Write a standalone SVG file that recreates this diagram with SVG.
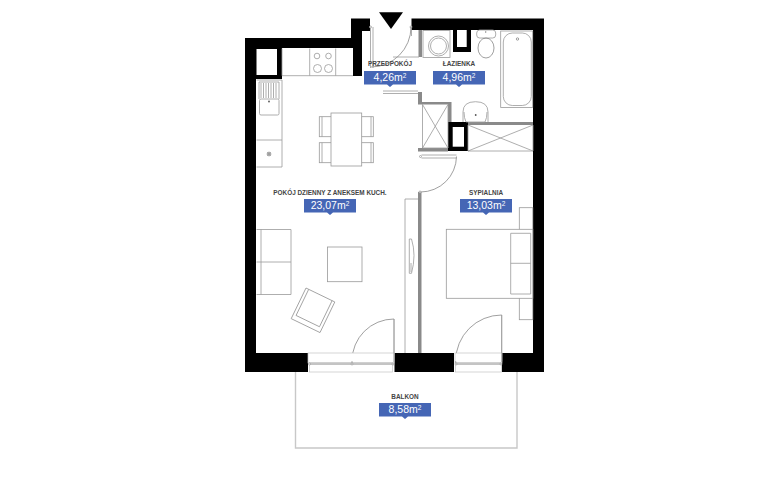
<svg xmlns="http://www.w3.org/2000/svg" width="768" height="480" viewBox="0 0 768 480">
<style>
.l{fill:none;stroke:#999;stroke-width:.8}
.lf{fill:#fff;stroke:#999;stroke-width:.8}
.d{fill:none;stroke:#777;stroke-width:.7}
.g{fill:#8a8a8a}
.w{fill:#000}
.t{font:600 6.4px "Liberation Sans",Arial,sans-serif;fill:#444;text-anchor:middle}
.a{font:10.500px "Liberation Sans",Arial,sans-serif;fill:#fff;text-anchor:middle}
.s{font-size:6.500px}
.b{fill:#4566b5}
</style>
<defs>
<g id="tag"><path class="b" d="M-26 0H26V13.500H3L0 16L-3 13.500H-26Z"/></g>
</defs>
<rect width="768" height="480" fill="#fff"/>
<g id="walls">
<path class="w" d="M245 38H351V18.500H370V31H362V76H353V48H282V79H256V353H308V372H245Z"/>
<rect x="256.500" y="49" width="20.500" height="26" fill="#fff"/>
<path class="w" d="M411.500 18.500H544V372H502V353H533V30H411.500Z"/>
<rect class="w" x="394.500" y="353" width="59.500" height="19"/>
<path class="g" d="M418 353V192H421.500V353Z"/>
<path class="g" d="M418 92H422V102H451.500V122H448V104.500H418Z"/>
<rect class="g" x="418" y="148" width="30" height="3.500"/>
<rect class="g" x="468" y="122" width="65" height="3"/>
<rect class="g" x="418.500" y="30" width="3.500" height="27"/>
<path class="w" d="M448 122H468V151H448Z"/>
<rect x="452.700" y="127" width="11.300" height="19.700" fill="#fff"/>
<path class="w" d="M453 30H471V52H453Z"/>
<rect x="457" y="30" width="9.700" height="17" fill="#fff"/>
</g>
<g id="balkon-frame">
<path fill="none" stroke="#c8c8c8" stroke-width="1.400" d="M295.500 372V448H517V372"/>
</g>
<g id="kuchnia">
<path class="l" d="M282 48.500V75.700H353M309.700 48.500V75.700M335.700 48.500V75.700"/>
<circle class="l" cx="317" cy="56" r="2.800"/><circle class="l" cx="328.500" cy="56" r="2.800"/>
<circle class="l" cx="317.500" cy="68.500" r="4"/><circle class="l" cx="328.500" cy="68.500" r="4"/>
<path class="l" d="M256.500 80H282V167H256.500M256.500 140H282"/>
<path class="l" d="M259 82V99M279 82V99M259 82H279M261 83V98M263.500 83V98M266 83V98M268.500 83V98M271 83V98M273.500 83V98M276 83V98"/>
<rect class="l" x="259.500" y="99" width="19.500" height="16" rx="1.500"/>
<circle fill="#555" cx="269" cy="101.500" r=".9"/>
<circle class="l" cx="269" cy="154" r="1.500"/>
<path class="l" d="M266.500 154H271.500M269 151.500V156.500M267 152L271 156M271 152L267 156" stroke-width=".5"/>
</g>
<g id="stol">
<rect class="l" x="319.300" y="116.700" width="13" height="20"/><rect class="l" x="319.300" y="142.700" width="13" height="20"/>
<path class="l" d="M322 116.700V136.700M322 142.700V162.700"/>
<rect class="l" x="361" y="116.700" width="12.300" height="20"/><rect class="l" x="361" y="142.700" width="12.300" height="20"/>
<path class="l" d="M371 116.700V136.700M371 142.700V162.700"/>
<rect class="lf" x="331" y="113" width="30.700" height="53"/>
</g>
<g id="salon">
<path class="l" d="M256.500 229.500H291V294.500H256.500M261 229.500V294.500M256.500 262H291"/>
<rect class="l" x="327.500" y="247" width="34.500" height="34.700"/>
<g transform="translate(313 310.300) rotate(25.800)"><rect class="l" x="-16" y="-17" width="32" height="34"/><path class="l" d="M-13 -17V12H13V-17"/></g>
</g>
<g id="szafa">
<path class="l" d="M405 353V199H418"/>
<path class="l" d="M409.300 239H411.500Q416.500 255 411.500 273.300H409.300Z"/>
<path class="l" d="M411 263V272"/>
</g>
<g id="lazienka">
<rect class="l" x="423" y="30.500" width="27" height="27"/>
<circle class="l" cx="438.500" cy="46" r="10"/><circle class="l" cx="438.500" cy="46" r="8"/>
<rect class="lf" x="476.700" y="30" width="19" height="8" rx="3"/>
<circle fill="#777" cx="485.700" cy="32" r=".7"/>
<ellipse class="d" cx="486" cy="48" rx="8" ry="10"/>
<rect class="l" x="500.700" y="31" width="32" height="76.500"/>
<rect class="l" x="503.300" y="33" width="28" height="72.500" rx="9"/>
<circle class="d" cx="517.500" cy="39" r="1.200"/>
<path class="l" d="M463 122V112Q463 101.700 475.500 101.700Q488 101.700 488 112V122"/>
<path class="l" d="M464 112Q464 118 466 122H485Q487 118 487 112"/>
<circle fill="#555" cx="475.700" cy="115" r=".9"/>
<path class="l" d="M468 125V151H533V125M468 125L533 151M533 125L468 151"/>
<path class="l" d="M422.500 104.500V148H448V104.500M422.500 104.500L448 148M448 104.500L422.500 148"/>
</g>
<g id="sypialnia">
<rect class="l" x="519.300" y="207.700" width="13.500" height="112"/>
<rect class="lf" x="446.300" y="229.300" width="86.500" height="69"/>
<path class="l" d="M510.700 233.300H530.700V294H510.700ZM510.700 263.300H530.700"/>
</g>
<g id="drzwi">
<path class="l" d="M370.500 27V68M373 27V68M411.500 27V36"/>
<circle class="lf" cx="370.500" cy="27" r="1"/><circle class="lf" cx="411" cy="27" r="1"/>
<path class="d" d="M411 27A40 40 0 0 1 371 67"/>
<path class="l" d="M383 91H418M383 93.500H418"/>
<path class="l" d="M393 57H419"/>
<path class="l" d="M421.500 155H456.500M421.500 158H456.500"/>
<circle class="lf" cx="420.500" cy="156.500" r="1"/>
<path class="d" d="M456.500 156.500A36 36 0 0 1 420.500 192"/>
<circle class="lf" cx="420" cy="192" r="1"/>
<path class="l" d="M394 319V361"/>
<path class="d" d="M394 319A42 42 0 0 0 352 361"/>
<path class="l" d="M501.700 315V361"/>
<path class="d" d="M501.700 315A46 46 0 0 0 455.700 361"/>
</g>
<g id="okna">
<rect fill="#fff" stroke="#c4c4c4" stroke-width=".7" x="308" y="353" width="86" height="10"/>
<rect fill="#fff" stroke="#c4c4c4" stroke-width=".7" x="309.500" y="363" width="83" height="9"/>
<rect fill="#c4c4c4" x="309" y="362.500" width="84" height="2.500"/>
<rect fill="#fff" stroke="#c4c4c4" stroke-width=".7" x="455" y="353" width="47" height="10"/>
<rect fill="#fff" stroke="#c4c4c4" stroke-width=".7" x="455.500" y="363" width="46" height="9"/>
<rect fill="#c4c4c4" x="456" y="362.500" width="45" height="2.500"/>
<circle class="lf" cx="309.500" cy="364" r="1"/><circle class="lf" cx="352" cy="364" r="1"/><circle class="lf" cx="393" cy="364" r="1"/>
<circle class="lf" cx="456" cy="364" r="1"/><circle class="lf" cx="501" cy="364" r="1"/>
</g>
<g id="drzwi-luki">
<path class="l" d="M394 319V362M352 361V363M501.700 315V362M455.700 361V363"/>
</g>
<g id="wejscie"><path d="M379 12.300H403L391 29Z" fill="#000"/></g>
<g id="przedpokoj"><text class="t" x="390" y="66">PRZEDPOKÓJ</text><use href="#tag" x="390" y="71"/><text class="a" x="390" y="81">4,26m<tspan class="s" dy="-3.500">2</tspan></text></g>
<g id="lazienka-label"><text class="t" x="459" y="66">ŁAZIENKA</text><use href="#tag" x="459" y="71"/><text class="a" x="459" y="81">4,96m<tspan class="s" dy="-3.500">2</tspan></text></g>
<g id="pokoj"><text class="t" x="330" y="195">POKÓJ DZIENNY Z ANEKSEM KUCH.</text><use href="#tag" x="330" y="199"/><text class="a" x="330" y="209">23,07m<tspan class="s" dy="-3.500">2</tspan></text></g>
<g id="sypialnia-label"><text class="t" x="486" y="195">SYPIALNIA</text><use href="#tag" x="486" y="199"/><text class="a" x="486" y="209">13,03m<tspan class="s" dy="-3.500">2</tspan></text></g>
<g id="balkon"><text class="t" x="405" y="399">BALKON</text><use href="#tag" x="405" y="403"/><text class="a" x="405" y="413">8,58m<tspan class="s" dy="-3.500">2</tspan></text></g>
<g id="connectors"></g>
</svg>
